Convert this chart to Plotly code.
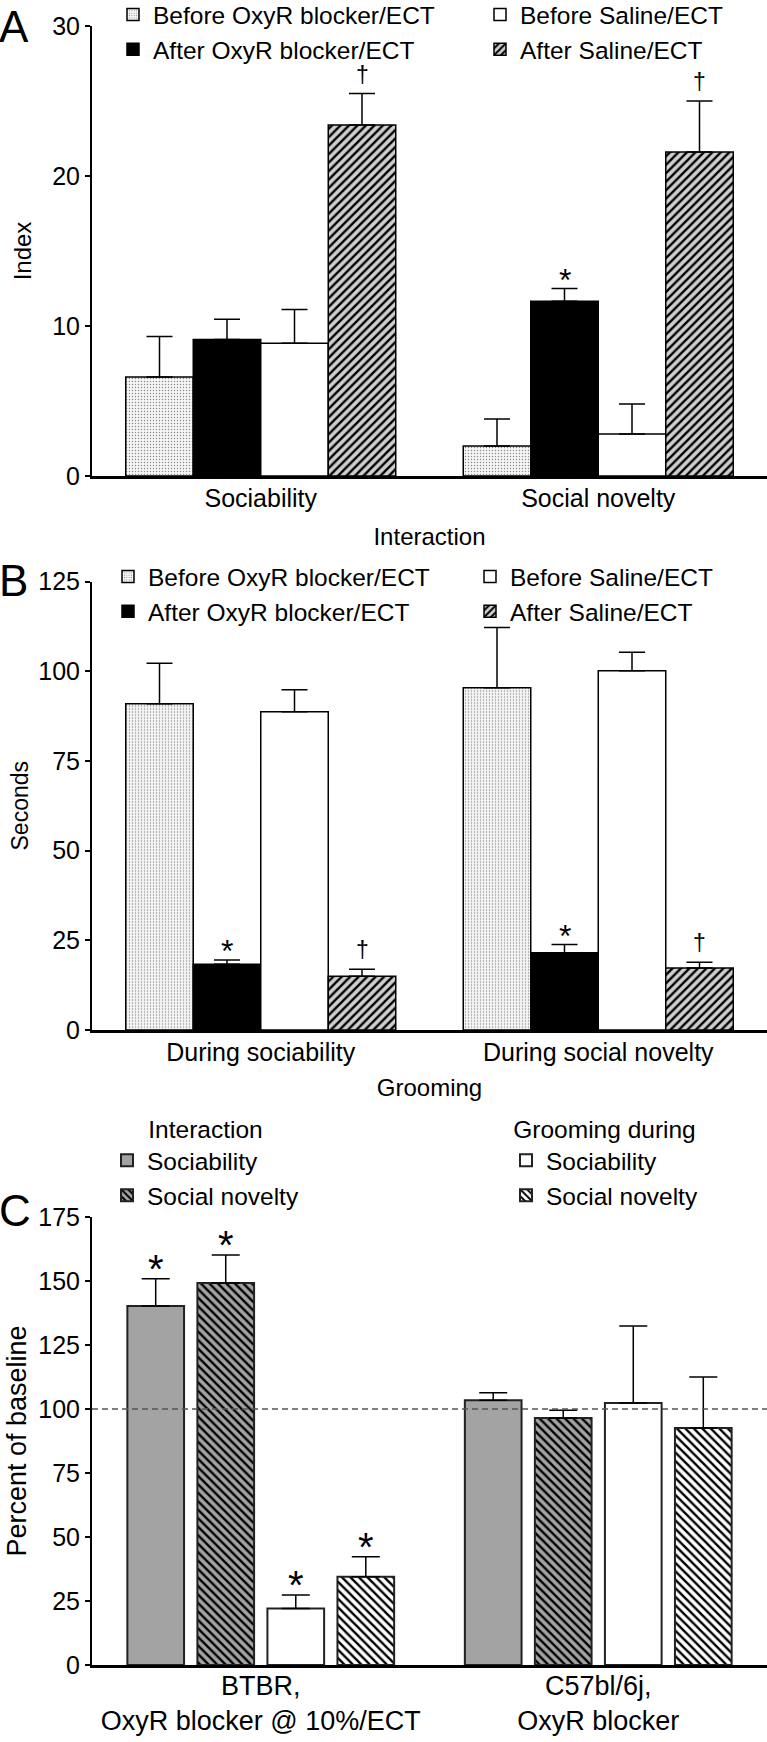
import plotly.graph_objects as go

FONT = "Liberation Sans, Arial, Helvetica, sans-serif"
W, H = 767, 1742

# ---------------- DATA ----------------
series_AB = ["Before OxyR blocker/ECT", "After OxyR blocker/ECT",
             "Before Saline/ECT", "After Saline/ECT"]

# Panel A: Interaction index
A_categories = ["Sociability", "Social novelty"]
A_before_oxyr = [6.6, 2.0]
A_before_oxyr_err = [2.7, 1.8]
A_after_oxyr = [9.1, 11.65]
A_after_oxyr_err = [1.35, 0.85]
A_before_saline = [8.85, 2.8]
A_before_saline_err = [2.25, 2.0]
A_after_saline = [23.4, 21.6]
A_after_saline_err = [2.1, 3.4]
A_marks_after_oxyr = ["", "*"]
A_marks_after_saline = ["†", "†"]

# Panel B: Grooming seconds
B_categories = ["During sociability", "During social novelty"]
B_before_oxyr = [90.9, 95.4]
B_before_oxyr_err = [11.3, 16.8]
B_after_oxyr = [18.3, 21.5]
B_after_oxyr_err = [1.2, 2.3]
B_before_saline = [88.7, 100.1]
B_before_saline_err = [6.1, 5.2]
B_after_saline = [15.0, 17.3]
B_after_saline_err = [1.9, 1.6]
B_marks_after_oxyr = ["*", "*"]
B_marks_after_saline = ["†", "†"]

# Panel C: Percent of baseline
C_categories = ["BTBR,<br>OxyR blocker @ 10%/ECT", "C57bl/6j,<br>OxyR blocker"]
series_C = ["Sociability", "Social novelty", "Sociability", "Social novelty"]
C_int_soc = [140.2, 103.4]
C_int_soc_err = [10.7, 2.9]
C_int_nov = [149.2, 96.5]
C_int_nov_err = [11.0, 3.0]
C_groom_soc = [22.1, 102.3]
C_groom_soc_err = [5.2, 30.1]
C_groom_nov = [34.5, 92.6]
C_groom_nov_err = [7.8, 19.9]
C_marks = [["*", ""], ["*", ""], ["*", ""], ["*", ""]]
C_baseline = 100

A_ticks = [0, 10, 20, 30]
B_ticks = [0, 25, 50, 75, 100, 125]
C_ticks = [0, 25, 50, 75, 100, 125, 150, 175]

# ---------------- STYLES ----------------
dots = dict(color="white", pattern=dict(shape=".", bgcolor="#f6f6f6", fgcolor="#8a8a8a",
                                        fgopacity=1, size=3, solidity=0.18))
black = dict(color="black")
white = dict(color="white")
hatch_light = dict(color="#cfcfcf", pattern=dict(shape="/", bgcolor="#cfcfcf", fgcolor="black",
                                                 fgopacity=1, size=6, solidity=0.4))
gray = dict(color="#a3a3a3")
hatch_gray = dict(color="#a3a3a3", pattern=dict(shape="\\", bgcolor="#a3a3a3", fgcolor="black",
                                                fgopacity=1, size=6, solidity=0.4))
hatch_white = dict(color="white", pattern=dict(shape="\\", bgcolor="white", fgcolor="black",
                                               fgopacity=1, size=6, solidity=0.4))

def px_y(p):
    return 1 - p / H

fig = go.Figure()

x_idx = [0, 1]


def add_bars(vals, errs, styles, names, xa, ya, legends, width, slot, lw, capw, outline):
    for i, (v, e, st, nm, lg) in enumerate(zip(vals, errs, styles, names, legends)):
        off = -2 * slot + i * slot + (slot - width) / 2
        marker = dict(st)
        marker["line"] = dict(color=outline, width=lw)
        fig.add_trace(go.Bar(
            x=x_idx, y=v, name=nm, xaxis=xa, yaxis=ya, legend=lg,
            legendgroup=f"{ya}{i}", width=width, offset=off, marker=marker,
            error_y=dict(type="data", array=e, arrayminus=[0] * len(e), symmetric=False,
                         color="black", thickness=1.5, width=capw),
            hoverinfo="skip",
        ))


add_bars([A_before_oxyr, A_after_oxyr, A_before_saline, A_after_saline],
         [A_before_oxyr_err, A_after_oxyr_err, A_before_saline_err, A_after_saline_err],
         [dots, black, white, hatch_light], series_AB, "x", "y",
         ["legend", "legend", "legend2", "legend2"], 0.2, 0.2, 1.5, 13, "black")
add_bars([B_before_oxyr, B_after_oxyr, B_before_saline, B_after_saline],
         [B_before_oxyr_err, B_after_oxyr_err, B_before_saline_err, B_after_saline_err],
         [dots, black, white, hatch_light], series_AB, "x2", "y2",
         ["legend3", "legend3", "legend4", "legend4"], 0.2, 0.2, 1.5, 13, "black")
add_bars([C_int_soc, C_int_nov, C_groom_soc, C_groom_nov],
         [C_int_soc_err, C_int_nov_err, C_groom_soc_err, C_groom_nov_err],
         [gray, hatch_gray, white, hatch_white], series_C, "x3", "y3",
         ["legend5", "legend5", "legend6", "legend6"], 0.168, 0.2075, 2, 14, "#222")

# significance marks
def add_marks(vals, errs, marks, idx, slot, xa, ya, size_star, size_dag):
    for g in range(len(vals)):
        m = marks[g]
        if not m:
            continue
        xpos = x_idx[g] - 2 * slot + idx * slot + slot / 2
        star = m == "*"
        fig.add_annotation(x=xpos, y=vals[g] + errs[g], xref=xa, yref=ya, text=m,
                           showarrow=False, yanchor="bottom",
                           yshift=-int(size_star * 0.36) if star else 4,
                           font=dict(size=size_star if star else size_dag, family=FONT, color="black"))

add_marks(A_after_oxyr, A_after_oxyr_err, A_marks_after_oxyr, 1, 0.2, "x", "y", 32, 23)
add_marks(A_after_saline, A_after_saline_err, A_marks_after_saline, 3, 0.2, "x", "y", 32, 23)
add_marks(B_after_oxyr, B_after_oxyr_err, B_marks_after_oxyr, 1, 0.2, "x2", "y2", 32, 23)
add_marks(B_after_saline, B_after_saline_err, B_marks_after_saline, 3, 0.2, "x2", "y2", 32, 23)
for k, (v, e) in enumerate([(C_int_soc, C_int_soc_err), (C_int_nov, C_int_nov_err),
                            (C_groom_soc, C_groom_soc_err), (C_groom_nov, C_groom_nov_err)]):
    add_marks(v, e, C_marks[k], k, 0.2075, "x3", "y3", 40, 23)

# baseline dashed line (drawn above bars)
fig.add_shape(type="line", xref="x3 domain", yref="y3", x0=0, x1=1, y0=C_baseline, y1=C_baseline,
              line=dict(color="#555555", width=1.5, dash="6px,4px"), layer="above")

# ---------------- AXES ----------------
x_dom = [92 / W, 1.0]
tickfont = dict(size=25, family=FONT, color="black")

def xaxis(cats, title, dom_anchor, size=25, lstand=-2, standoff=18):
    return dict(domain=x_dom, anchor=dom_anchor, range=[-0.5, 1.5], tickvals=x_idx, ticktext=cats,
                ticks="", showline=True, linecolor="black", linewidth=2.5, showgrid=False,
                zeroline=False, tickfont=dict(size=size, family=FONT, color="black"),
                ticklabelstandoff=lstand,
                title=dict(text=title, font=dict(size=24, family=FONT, color="black"), standoff=standoff))

def yaxis(dom, rng, tvals, title, tsize, standoff, anchor):
    return dict(domain=dom, anchor=anchor, range=rng, tickvals=tvals, ticks="outside", ticklen=5,
                tickwidth=1.5, tickcolor="black", showline=True, linecolor="black", linewidth=2,
                showgrid=False, zeroline=False, tickfont=tickfont,
                title=dict(text=title, font=dict(size=tsize, family=FONT, color="black"), standoff=standoff))

A_dom = [px_y(476), px_y(26)]
B_dom = [px_y(1030), px_y(581.5)]
C_dom = [px_y(1665), px_y(1217)]

legend_common = dict(font=dict(size=24.5, family=FONT, color="black"), bgcolor="rgba(0,0,0,0)",
                     orientation="v", xanchor="left", yanchor="top", tracegroupgap=0,
                     itemclick=False, itemdoubleclick=False)

def leg(x, y, title=None):
    d = dict(legend_common, x=x, y=y)
    if title:
        d["title"] = dict(text=title, side="top center", font=dict(size=24.5, family=FONT, color="black"))
    return d

fig.update_layout(
    width=W, height=H, autosize=False,
    margin=dict(l=0, r=0, t=0, b=0, autoexpand=False),
    paper_bgcolor="white", plot_bgcolor="white",
    font=dict(family=FONT, color="black"),
    barmode="overlay",
    showlegend=True,
    xaxis=xaxis(A_categories, "Interaction", "y", standoff=18),
    xaxis2=xaxis(B_categories, "Grooming", "y2", standoff=15),
    xaxis3=xaxis(C_categories, None, "y3", size=27, lstand=-5),
    yaxis=yaxis(A_dom, [0, 30], A_ticks, "Index", 24, 14, "x"),
    yaxis2=yaxis(B_dom, [0, 125], B_ticks, "Seconds", 23, 3, "x2"),
    yaxis3=yaxis(C_dom, [0, 175], C_ticks, "Percent of baseline", 27, 4, "x3"),
    legend=leg(113 / W, px_y(-8)),
    legend2=leg(480 / W, px_y(-8)),
    legend3=leg(108 / W, px_y(554)),
    legend4=leg(470 / W, px_y(554)),
    legend5=leg(107 / W, px_y(1106), "Interaction"),
    legend6=leg(506 / W, px_y(1106), "Grooming during"),
)

for txt, yc in [("A", 27), ("B", 580), ("C", 1210)]:
    fig.add_annotation(text=txt, xref="paper", yref="paper", x=-0.004, y=px_y(yc), xanchor="left",
                       yanchor="middle", showarrow=False,
                       font=dict(size=44, family=FONT, color="black"))

fig.write_html("out.html", config={"displayModeBar": False},
               post_script="document.body.style.margin='0';document.body.style.overflow='hidden';")
